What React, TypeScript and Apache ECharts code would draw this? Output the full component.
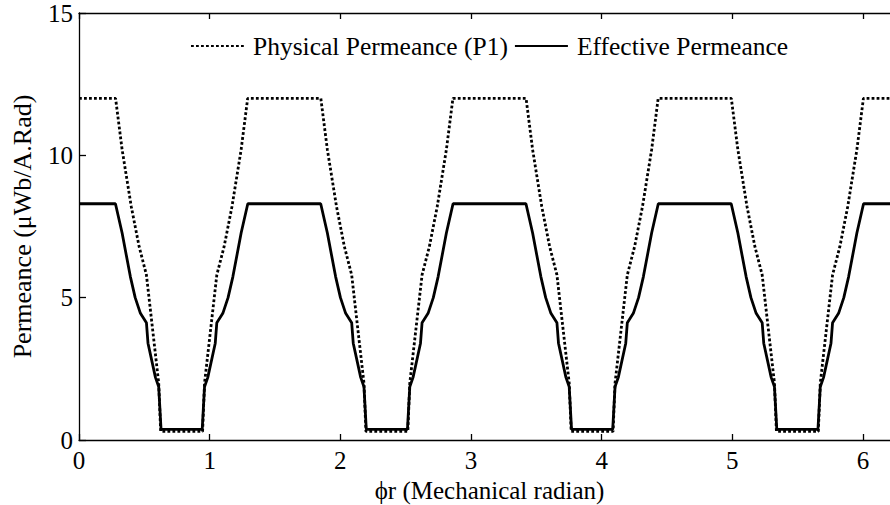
import { useEffect, useRef } from "react";
import * as echarts from "echarts";

const FONT = "'Liberation Serif', 'Times New Roman', serif";

const seriesNames = ["Physical Permeance (P1)", "Effective Permeance"];
const xAxisName = "ϕr (Mechanical radian)";
const yAxisName = "Permeance (μWb/A.Rad)";

// Rotor angle range (one mechanical revolution) and value range
const angleMax = 6.2832;
const permeanceMax = 15;

// Physical permeance P1 (dotted)
const physicalAngle = [
  0, 0.28, 0.33, 0.4, 0.46, 0.516, 0.61, 0.625,
  0.9458, 0.9608, 1.0548, 1.1108, 1.1708, 1.2408, 1.2908,
  1.8508, 1.9008, 1.9708, 2.0308, 2.0868, 2.1808, 2.1958,
  2.5166, 2.5316, 2.6256, 2.6816, 2.7416, 2.8116, 2.8616,
  3.4216, 3.4716, 3.5416, 3.6016, 3.6576, 3.7516, 3.7666,
  4.0874, 4.1024, 4.1964, 4.2524, 4.3124, 4.3824, 4.4324,
  4.9924, 5.0424, 5.1124, 5.1724, 5.2284, 5.3224, 5.3374,
  5.6582, 5.6732, 5.7672, 5.8232, 5.8832, 5.9532, 6.0032,
  6.2832,
];
const physicalValue = [
  12, 12, 10.2, 8.2, 6.8, 5.8, 2.0, 0.3,
  0.3, 2.0, 5.8, 6.8, 8.2, 10.2, 12,
  12, 10.2, 8.2, 6.8, 5.8, 2.0, 0.3,
  0.3, 2.0, 5.8, 6.8, 8.2, 10.2, 12,
  12, 10.2, 8.2, 6.8, 5.8, 2.0, 0.3,
  0.3, 2.0, 5.8, 6.8, 8.2, 10.2, 12,
  12, 10.2, 8.2, 6.8, 5.8, 2.0, 0.3,
  0.3, 2.0, 5.8, 6.8, 8.2, 10.2, 12,
  12,
];

// Effective permeance (solid)
const effectiveAngle = [
  0, 0.279, 0.33, 0.393, 0.43, 0.47, 0.516, 0.528, 0.585, 0.61, 0.628,
  0.9428, 0.9608, 0.9858, 1.0428, 1.0548, 1.1008, 1.1408, 1.1778, 1.2408, 1.2918,
  1.8498, 1.9008, 1.9638, 2.0008, 2.0408, 2.0868, 2.0988, 2.1558, 2.1808, 2.1988,
  2.5136, 2.5316, 2.5566, 2.6136, 2.6256, 2.6716, 2.7116, 2.7486, 2.8116, 2.8626,
  3.4206, 3.4716, 3.5346, 3.5716, 3.6116, 3.6576, 3.6696, 3.7266, 3.7516, 3.7696,
  4.0844, 4.1024, 4.1274, 4.1844, 4.1964, 4.2424, 4.2824, 4.3194, 4.3824, 4.4334,
  4.9914, 5.0424, 5.1054, 5.1424, 5.1824, 5.2284, 5.2404, 5.2974, 5.3224, 5.3404,
  5.6552, 5.6732, 5.6982, 5.7552, 5.7672, 5.8132, 5.8532, 5.8902, 5.9532, 6.0042,
  6.2832,
];
const effectiveValue = [
  8.3, 8.3, 7.27, 5.74, 5.0, 4.45, 4.12, 3.4, 2.2, 1.87, 0.37,
  0.37, 1.87, 2.2, 3.4, 4.12, 4.45, 5.0, 5.74, 7.27, 8.3,
  8.3, 7.27, 5.74, 5.0, 4.45, 4.12, 3.4, 2.2, 1.87, 0.37,
  0.37, 1.87, 2.2, 3.4, 4.12, 4.45, 5.0, 5.74, 7.27, 8.3,
  8.3, 7.27, 5.74, 5.0, 4.45, 4.12, 3.4, 2.2, 1.87, 0.37,
  0.37, 1.87, 2.2, 3.4, 4.12, 4.45, 5.0, 5.74, 7.27, 8.3,
  8.3, 7.27, 5.74, 5.0, 4.45, 4.12, 3.4, 2.2, 1.87, 0.37,
  0.37, 1.87, 2.2, 3.4, 4.12, 4.45, 5.0, 5.74, 7.27, 8.3,
  8.3,
];

const zip = (xs: number[], ys: number[]) => xs.map((x, i) => [x, ys[i]]);

const axisLineStyle = { color: "#000", width: 1.3 };
const labelFont = { fontFamily: FONT, fontSize: 25, color: "#000" };

function buildOption(): echarts.EChartsOption {
  return {
    animation: false,
    backgroundColor: "#fff",
    textStyle: { fontFamily: FONT, color: "#000" },
    grid: {
      left: 79,
      top: 13,
      width: 821,
      height: 427,
      containLabel: false,
      outerBoundsMode: "none",
    } as any,
    legend: {
      left: 190,
      top: 33,
      padding: 0,
      itemWidth: 53,
      itemHeight: 20,
      itemGap: 6,
      itemStyle: { opacity: 0 },
      textStyle: { fontFamily: FONT, fontSize: 25.5, color: "#000", padding: [0, 0, 0, 4] },
      data: seriesNames,
    },
    xAxis: [
      {
        type: "value",
        min: 0,
        max: angleMax,
        interval: 1,
        position: "bottom",
        name: xAxisName,
        nameLocation: "middle",
        nameGap: 37,
        nameTextStyle: labelFont,
        axisLine: { show: true, onZero: false, lineStyle: axisLineStyle },
        axisTick: { show: true, inside: true, length: 6, lineStyle: axisLineStyle },
        axisLabel: {
          ...labelFont,
          margin: 8,
          formatter: (v: number) => (Number.isInteger(v) ? String(v) : ""),
        },
        splitLine: { show: false },
      },
      {
        type: "value",
        min: 0,
        max: angleMax,
        interval: 1,
        position: "top",
        axisLine: { show: true, onZero: false, lineStyle: axisLineStyle },
        axisTick: { show: true, inside: true, length: 6, lineStyle: axisLineStyle },
        axisLabel: { show: false },
        splitLine: { show: false },
      },
    ],
    yAxis: [
      {
        type: "value",
        min: 0,
        max: permeanceMax,
        interval: 5,
        name: yAxisName,
        nameLocation: "middle",
        nameGap: 44,
        nameTextStyle: { ...labelFont, fontSize: 26 },
        axisLine: { show: true, onZero: false, lineStyle: axisLineStyle },
        axisTick: { show: true, inside: true, length: 7, lineStyle: axisLineStyle },
        axisLabel: { ...labelFont, margin: 6 },
        splitLine: { show: false },
      },
    ],
    series: [
      {
        name: seriesNames[0],
        type: "line",
        xAxisIndex: 0,
        yAxisIndex: 0,
        data: zip(physicalAngle, physicalValue),
        symbol: "none",
        showSymbol: false,
        itemStyle: { color: "#000" },
        lineStyle: { color: "#000", width: 2.8, type: [2.8, 2.2] },
        z: 2,
      },
      {
        name: seriesNames[1],
        type: "line",
        xAxisIndex: 0,
        yAxisIndex: 0,
        data: zip(effectiveAngle, effectiveValue),
        symbol: "none",
        showSymbol: false,
        itemStyle: { color: "#000" },
        lineStyle: { color: "#000", width: 2.8, type: "solid" },
        z: 3,
      },
    ],
  };
}

export default function App() {
  const ref = useRef<HTMLDivElement>(null);
  useEffect(() => {
    if (!ref.current) return;
    const chart = echarts.init(ref.current, null, { renderer: "svg" });
    chart.setOption(buildOption());
    return () => chart.dispose();
  }, []);
  return (
    <div
      ref={ref}
      style={{ position: "fixed", left: 0, top: 0, width: 890, height: 505, background: "#fff" }}
    />
  );
}
